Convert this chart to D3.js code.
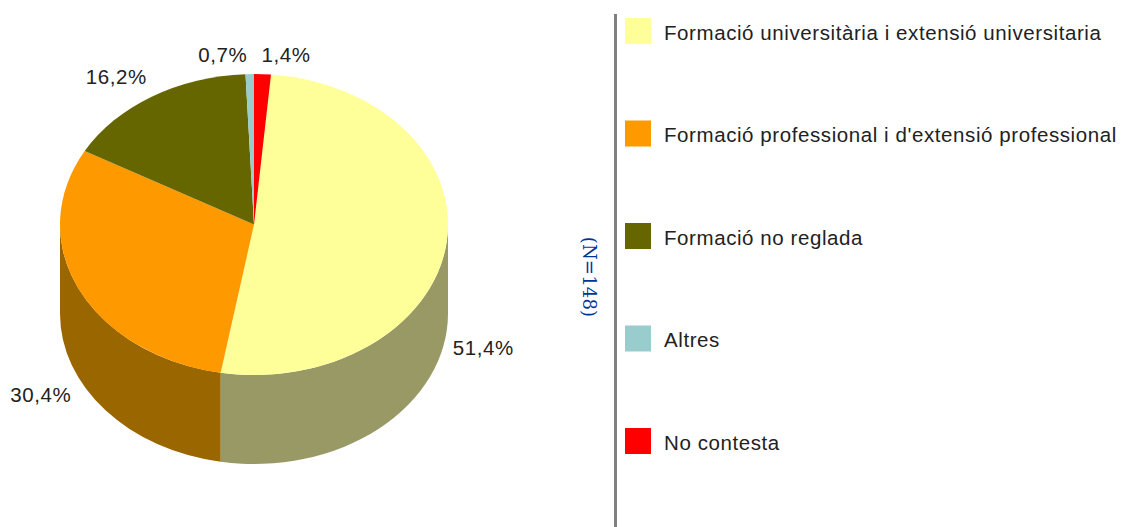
<!DOCTYPE html>
<html>
<head>
<meta charset="utf-8">
<script src="https://cdn.jsdelivr.net/npm/d3@7"></script>
<style>
    html, body { margin: 0; padding: 0; background: #fff; }
    svg { display: block; }
    text { font-family: 'Liberation Sans', Arial, sans-serif; fill: #222; letter-spacing: 0.58px; }
</style>
</head>
<body>
<svg id="chart" width="1122" height="527"></svg>
<script>
const categories = [
    'Formació universitària i extensió universitaria',
    'Formació professional i d\'extensió professional',
    'Formació no reglada',
    'Altres',
    'No contesta',
];
const values = [51.4, 30.4, 16.2, 0.7, 1.4];
const valueLabels = ['51,4%', '30,4%', '16,2%', '0,7%', '1,4%'];
const topColors = ['#ffff99', '#ff9900', '#666600', '#99cccc', '#ff0000'];
const sideColors = ['#999966', '#996600', '#3d3d00', '#5c7a7a', '#990000'];
const sampleSize = 'N=148';

const svg = d3.select('#chart');

const cx = 254;
const cy = 224.5;
const rx = 194;
const ry = 150.5;
const depth = 89;

// the last slice (No contesta) sits right after 12 o'clock, so the first one starts past it
const total = d3.sum(values);
const start = (values[4] / total) * 2 * Math.PI;
const pie = d3.pie().sort(null).startAngle(start).endAngle(start + 2 * Math.PI);
const slices = pie(values);

const px = a => cx + rx * Math.sin(a);
const py = a => cy - ry * Math.cos(a);

// wall: only the front half of the ellipse can be seen
const wall = d => {
    const a0 = Math.max(d.startAngle, Math.PI / 2);
    const a1 = Math.min(d.endAngle, 3 * Math.PI / 2);
    if (a1 <= a0) return null;
    return `M${px(a0)},${py(a0)}`
        + `A${rx},${ry} 0 0 1 ${px(a1)},${py(a1)}`
        + `L${px(a1)},${py(a1) + depth}`
        + `A${rx},${ry} 0 0 0 ${px(a0)},${py(a0) + depth}Z`;
};

svg.append('g')
    .selectAll('path')
    .data(slices)
    .enter()
    .append('path')
    .attr('d', wall)
    .style('fill', d => sideColors[d.index]);

const arc = d3.arc().innerRadius(0).outerRadius(rx);

svg.append('g')
    .attr('transform', `translate(${cx},${cy}) scale(1,${ry / rx})`)
    .selectAll('path')
    .data(slices)
    .enter()
    .append('path')
    .attr('d', arc)
    .style('fill', d => topColors[d.index]);

// nudges from the rim point of each slice to the label centre
const labelNudge = [[37, 103], [-38, 105], [-36, -20], [-27, -20], [23.5, -20]];

svg.append('g')
    .selectAll('text')
    .data(slices)
    .enter()
    .append('text')
    .attr('x', d => px((d.startAngle + d.endAngle) / 2) + labelNudge[d.index][0])
    .attr('y', d => py((d.startAngle + d.endAngle) / 2) + labelNudge[d.index][1])
    .attr('text-anchor', 'middle')
    .attr('dominant-baseline', 'central')
    .attr('font-size', 20.5)
    .text(d => valueLabels[d.index]);

// divider between pie and legend
svg.append('line')
    .attr('x1', 615.5)
    .attr('x2', 615.5)
    .attr('y1', 14)
    .attr('y2', 527)
    .style('stroke', '#808080')
    .style('stroke-width', 3);

svg.append('text')
    .attr('transform', 'translate(589,277) rotate(90)')
    .attr('text-anchor', 'middle')
    .attr('dominant-baseline', 'central')
    .attr('font-size', 18)
    .style('font-family', "'DejaVu Serif', serif")
    .style('letter-spacing', '0.2px')
    .style('fill', '#003399')
    .text(`(${sampleSize})`);

const legendY = d3.scalePoint()
    .domain(categories)
    .range([31, 441]);

const legend = svg.append('g')
    .selectAll('g')
    .data(categories)
    .enter()
    .append('g')
    .attr('transform', d => `translate(0,${legendY(d)})`);

legend.append('rect')
    .attr('x', 625)
    .attr('y', -13)
    .attr('width', 26)
    .attr('height', 26)
    .style('fill', (d, i) => topColors[i]);

legend.append('text')
    .attr('x', 664)
    .attr('y', 1)
    .attr('dominant-baseline', 'central')
    .attr('font-size', 20.5)
    .text(d => d);
</script>
</body>
</html>
